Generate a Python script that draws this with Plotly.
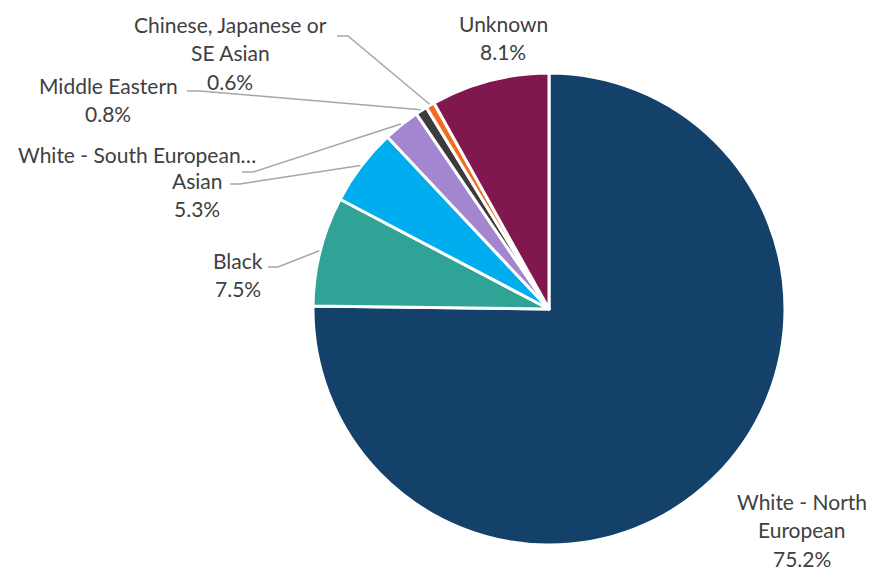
import math
import plotly.graph_objects as go

# Ethnicity breakdown (percent of total), in clockwise order from 12 o'clock
categories = [
    "White - North European",
    "Black",
    "Asian",
    "White - South European…",
    "Middle Eastern",
    "Chinese, Japanese or SE Asian",
    "Unknown",
]
values = [75.2, 7.5, 5.3, 2.5, 0.8, 0.6, 8.1]
show_pct = [True, True, True, False, True, True, True]

# How each category name wraps in its outside label
label_lines = [
    ["White - North", "European"],
    ["Black"],
    ["Asian"],
    ["White - South European…"],
    ["Middle Eastern"],
    ["Chinese, Japanese or", "SE Asian"],
    ["Unknown"],
]

colors = ["#13416A", "#2FA396", "#00AEEF", "#A386CF", "#3B3B3B", "#F26B21", "#80174F"]

W, H = 870, 570
CX, CY, R = 549, 309, 236          # pie centre and radius in pixels

# Label placement: centre x, first-line y (pixels), and leader elbow (None = no leader)
label_pos = [
    (802, 501, None),
    (238, 260, ((268, 267), (278, 267))),
    (197, 180, ((230, 184), (240, 184))),
    (137, 155, ((242, 172), (253, 172))),
    (108, 85, ((187, 91), (200, 91))),
    (230, 24, ((337, 36), (348, 36))),
    (503, 23, None),
]
LINE_STEP = 28.5
TEXT_COLOR = "#404040"
LEADER_COLOR = "#A6A6A6"
FONT = "Lato"
FONT_SIZE = 21


def px(x):
    return x / W


def py(y):
    return 1 - y / H


fig = go.Figure()
fig.add_trace(go.Pie(
    labels=categories,
    values=values,
    sort=False,
    direction="clockwise",
    rotation=0,
    marker=dict(colors=colors, line=dict(color="white", width=3)),
    textinfo="none",
    hoverinfo="label+percent",
    showlegend=False,
    domain=dict(x=[px(CX - R), px(CX + R)], y=[py(CY + R), py(CY - R)]),
))

annotations = []
shapes = []
total = sum(values)
cum = 0.0
for name, val, lines, pct, (lx, ly, elbow) in zip(
        categories, values, label_lines, show_pct, label_pos):
    mid = (cum + val / 2) / total * 2 * math.pi
    cum += val
    texts = list(lines) + ([f"{val:.1f}%"] if pct else [])
    for i, t in enumerate(texts):
        annotations.append(dict(
            x=px(lx), y=py(ly + i * LINE_STEP), xref="paper", yref="paper",
            text=t, showarrow=False, xanchor="center", yanchor="middle",
            borderpad=0,
            font=dict(family=FONT, size=FONT_SIZE, color=TEXT_COLOR),
        ))
    if elbow is not None:
        ex = CX + (R + 1) * math.sin(mid)
        ey = CY - (R + 1) * math.cos(mid)
        (x0, y0), (x1, y1) = elbow
        path = (f"M {px(x0)},{py(y0)} L {px(x1)},{py(y1)} L {px(ex)},{py(ey)}")
        shapes.append(dict(type="path", path=path, xref="paper", yref="paper",
                           line=dict(color=LEADER_COLOR, width=1.5)))

fig.update_layout(
    width=W, height=H, autosize=False,
    margin=dict(l=0, r=0, t=0, b=0),
    paper_bgcolor="white", plot_bgcolor="white",
    annotations=annotations, shapes=shapes,
)

fig.write_html("out.html")
